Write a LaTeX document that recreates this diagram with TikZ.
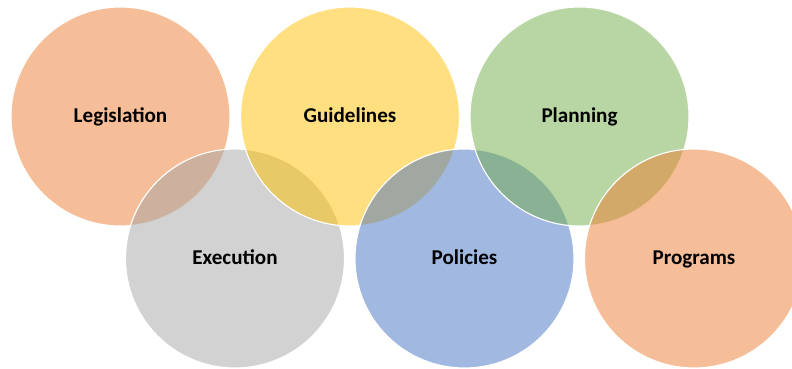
\documentclass[tikz,border=0pt]{standalone}
\usepackage{fontspec}
\setmainfont{Carlito}
\definecolor{accorange}{HTML}{ED7D31}
\definecolor{accgold}{HTML}{FFC000}
\definecolor{accgrey}{HTML}{A5A5A5}
\definecolor{accblue}{HTML}{4472C4}
\definecolor{accgreen}{HTML}{70AD47}

\begin{document}
\begin{tikzpicture}[x=0.025cm, y=0.025cm,
        bubble/.style={circle, draw=white, line width=0.8pt, fill opacity=0.5, text opacity=1,
            minimum size=219*0.025cm, inner sep=0pt, text height=0.85em, text depth=0pt,
            font=\bfseries\fontsize{15}{18}\selectfont}]
        \useasboundingbox (0,0) rectangle (792,369);
        \node[bubble, fill=accorange] (legis) at (120.5,252.5) {Legislation};
        \node[bubble, fill=accgrey] (exec) at (235,110.5) {Execution};
        \node[bubble, fill=accgold] (guide) at (350,252.5) {Guidelines};
        \node[bubble, fill=accblue] (policy) at (464.5,110.5) {Policies};
        \node[bubble, fill=accgreen] (plan) at (579.5,252.5) {Planning};
        \node[bubble, fill=accorange] (progr) at (694,110.5) {Programs};
    \end{tikzpicture}
\end{document}
